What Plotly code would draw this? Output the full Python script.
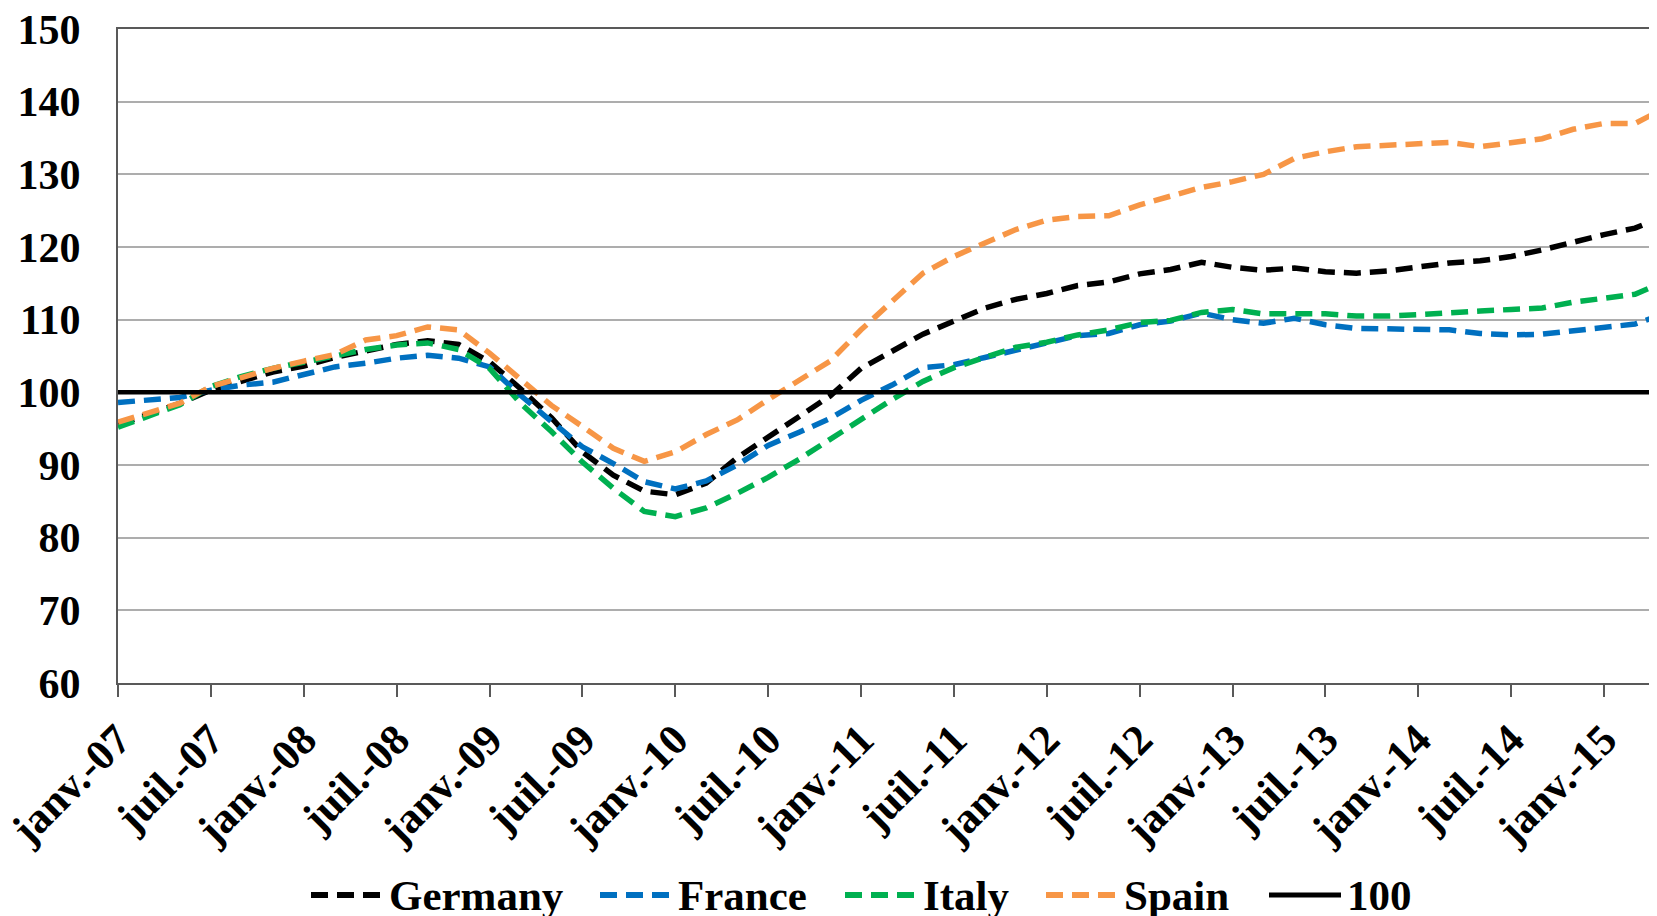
import plotly.graph_objects as go

# ---------------- data ----------------
# month offsets from janv.-07 (every 2 months)
months = list(range(0, 101, 2))

germany = [95.5, 97.0, 98.5, 100.3, 101.6, 102.8, 103.6, 104.8, 105.7, 106.6,
           107.1, 106.6, 104.2, 100.5, 96.5, 91.8, 88.6, 86.4, 85.9, 87.5,
           91.0, 93.8, 96.5, 99.5, 103.3, 105.7, 108.0, 109.8, 111.6, 112.8,
           113.6, 114.7, 115.2, 116.3, 116.9, 117.9, 117.2, 116.8, 117.1, 116.6,
           116.4, 116.7, 117.3, 117.8, 118.1, 118.7, 119.6, 120.7, 121.7, 122.6,
           124.3]
france = [98.6, 98.9, 99.3, 100.3, 101.0, 101.4, 102.4, 103.5, 104.0, 104.7,
          105.1, 104.7, 103.5, 99.6, 96.0, 92.5, 90.2, 87.7, 86.7, 87.8,
          90.0, 92.7, 94.5, 96.4, 98.9, 101.0, 103.4, 103.8, 104.8, 105.8,
          106.8, 107.8, 108.1, 109.3, 109.8, 110.9, 110.0, 109.5, 110.2, 109.3,
          108.8, 108.7, 108.6, 108.6, 108.1, 107.9, 108.0, 108.5, 108.9, 109.4,
          110.9]
italy = [95.2, 96.8, 98.3, 100.8, 102.2, 103.3, 104.1, 105.0, 105.9, 106.5,
         106.8, 105.9, 103.3, 98.5, 94.6, 90.4, 86.8, 83.6, 82.9, 84.1,
         86.1, 88.3, 90.8, 93.6, 96.3, 99.0, 101.5, 103.4, 104.8, 106.2,
         106.9, 107.9, 108.6, 109.6, 109.9, 111.0, 111.4, 110.8, 110.8, 110.8,
         110.5, 110.5, 110.7, 111.0, 111.2, 111.4, 111.6, 112.4, 112.9, 113.5,
         115.3]
spain = [95.9, 97.2, 98.5, 100.8, 102.1, 103.3, 104.3, 105.2, 107.2, 107.8,
         109.0, 108.6, 105.4, 101.8, 98.2, 95.3, 92.3, 90.5, 91.8, 94.2,
         96.2, 99.0, 101.6, 104.3, 108.6, 112.6, 116.4, 118.7, 120.6, 122.4,
         123.7, 124.2, 124.3, 125.8, 127.0, 128.2, 129.0, 130.0, 132.2, 133.1,
         133.8, 134.0, 134.1, 134.4, 133.8, 134.3, 134.9, 136.2, 137.0, 137.0,
         139.2]
hundred = [100] * len(months)

tick_vals = list(range(0, 97, 6))
tick_labels = ["janv.-07", "juil.-07", "janv.-08", "juil.-08", "janv.-09",
               "juil.-09", "janv.-10", "juil.-10", "janv.-11", "juil.-11",
               "janv.-12", "juil.-12", "janv.-13", "juil.-13", "janv.-14",
               "juil.-14", "janv.-15"]

series_names = ["Germany", "France", "Italy", "Spain", "100"]
series_values = [germany, france, italy, spain, hundred]
series_colors = ["#000000", "#0070C0", "#00B050", "#F79646", "#000000"]
series_dash = ["17px,9px", "17px,9px", "17px,9px", "17px,9px", "solid"]
series_width = [5.5, 5.5, 5.5, 5.5, 4.5]

# ---------------- figure ----------------
# the page body adds an 8px offset; figure is sized to fill the window
OFF = 8
W, H = 1657 - OFF, 916 - OFF
ML, MR, MT, MB = 118 - OFF, 0, 29 - OFF, 916 - 683
FONT = "Liberation Serif"

fig = go.Figure()
for name, vals, col, dash, lw in zip(series_names, series_values,
                                     series_colors, series_dash, series_width):
    fig.add_trace(go.Scatter(x=months, y=vals, mode="lines", name=name,
                             line=dict(color=col, width=lw, dash=dash)))

fig.update_layout(
    width=W, height=H,
    margin=dict(l=ML, r=MR, t=MT, b=MB, autoexpand=False),
    plot_bgcolor="white", paper_bgcolor="white",
    showlegend=False,
    font=dict(family=FONT, size=42, color="black", weight="bold"),
)
fig.update_xaxes(
    range=[0, 99.42], automargin=False, ticklabeloverflow="allow",
    tickmode="array", tickvals=tick_vals, ticktext=tick_labels,
    tickangle=-45, ticks="outside", ticklen=12, tickwidth=2, tickcolor="#595959",
    showline=True, linecolor="#595959", linewidth=2, mirror=True,
    showgrid=False, zeroline=False,
    tickfont=dict(family=FONT, size=43, color="black", weight="bold"),
)
fig.update_yaxes(
    range=[60, 150], automargin=False, ticklabeloverflow="allow",
    tickmode="array", tickvals=list(range(60, 151, 10)),
    showgrid=True, gridcolor="#ADADAD", gridwidth=2,
    showline=True, linecolor="#595959", linewidth=2,
    ticks="", zeroline=False, ticklabelstandoff=27,
    tickfont=dict(family=FONT, size=42, color="black", weight="bold"),
)

# ---------------- manual legend ----------------
plot_w = W - ML - MR
plot_h = H - MT - MB


def px_x(px):
    # page pixel -> paper fraction
    return (px - OFF - ML) / plot_w


def px_y(py):
    return (H - MB - (py - OFF)) / plot_h


legend_sym_x = [311, 600, 845, 1046, 1269]
sym_len = 72
legend_y = 895
for name, col, dash, lw, x0 in zip(series_names, series_colors, series_dash,
                                   series_width, legend_sym_x):
    fig.add_shape(type="line", xref="paper", yref="paper",
                  x0=px_x(x0), x1=px_x(x0 + sym_len),
                  y0=px_y(legend_y), y1=px_y(legend_y),
                  line=dict(color=col, width=lw + 0.5, dash=dash))
    fig.add_annotation(xref="paper", yref="paper",
                       x=px_x(x0 + sym_len + 4), y=px_y(legend_y),
                       xanchor="left", yanchor="middle", showarrow=False,
                       text=name,
                       font=dict(family=FONT, size=43, color="black",
                                 weight="bold"))

fig.write_html("out.html")
